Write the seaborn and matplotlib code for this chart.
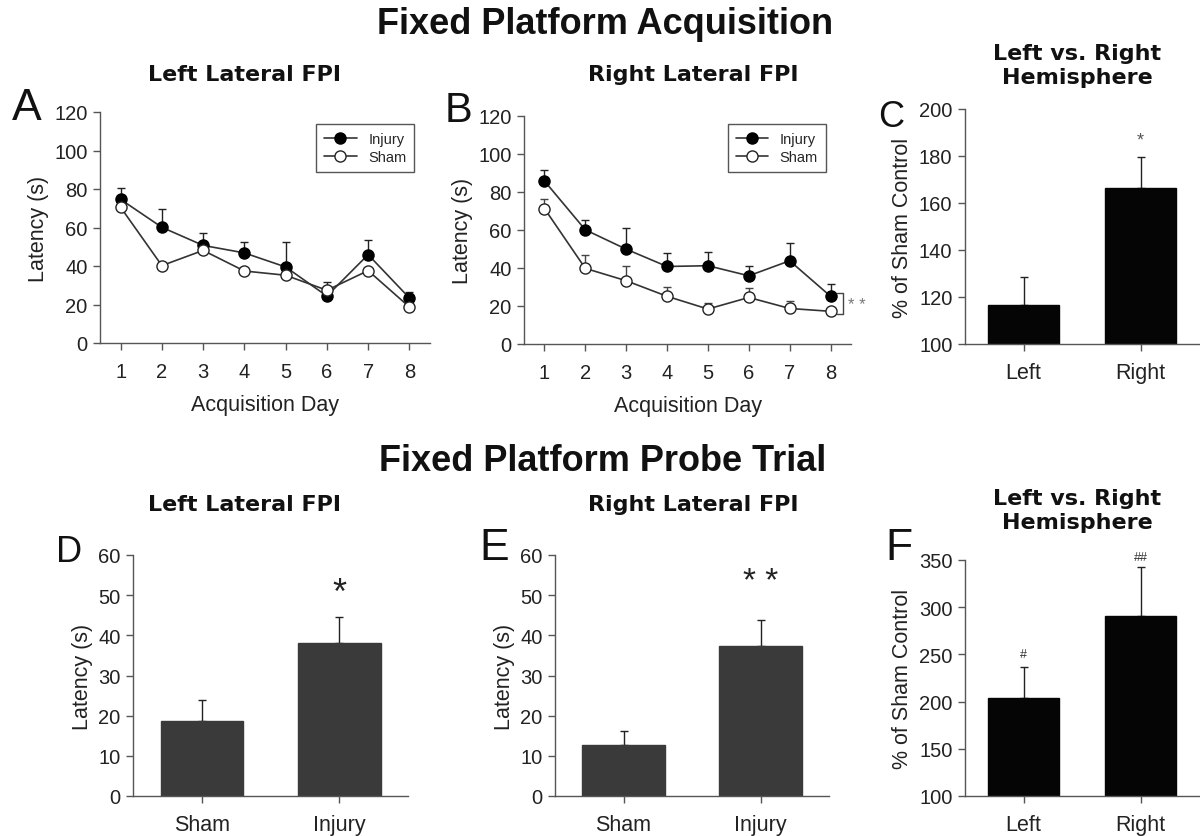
import numpy as np
import pandas as pd
import matplotlib
matplotlib.use("Agg")
import matplotlib.pyplot as plt
import seaborn as sns

# ---------------- data ----------------
days = [1, 2, 3, 4, 5, 6, 7, 8]

left_injury = [74.6, 60.1, 50.7, 46.8, 39.5, 24.4, 45.9, 23.4]
left_injury_err = [5.9, 9.3, 6.4, 5.7, 13.0, 7.1, 7.6, 3.1]
left_sham = [70.5, 40.2, 48.1, 37.4, 35.2, 27.4, 37.6, 18.7]

right_injury = [85.8, 60.1, 49.9, 40.8, 41.2, 35.9, 43.8, 25.1]
right_injury_err = [5.6, 5.1, 11.4, 6.9, 7.0, 5.3, 9.6, 6.3]
right_sham = [71.3, 39.8, 33.3, 25.1, 18.4, 24.5, 18.7, 17.2]
right_sham_err = [5.0, 7.0, 7.5, 4.7, 3.1, 4.8, 4.1, 1.5]

hemi_cats = ["Left", "Right"]
acq_pct = [116.5, 166.5]
acq_pct_err = [12.0, 13.0]

probe_cats = ["Sham", "Injury"]
probe_left = [18.7, 38.2]
probe_left_err = [5.3, 6.3]
probe_right = [12.8, 37.4]
probe_right_err = [3.3, 6.5]
probe_pct = [204.0, 291.0]
probe_pct_err = [33.0, 52.0]

# ---------------- style ----------------
sns.set_theme(style="ticks")
plt.rcParams["font.family"] = ["Liberation Sans", "DejaVu Sans"]
plt.rcParams["axes.edgecolor"] = "#555555"
plt.rcParams["xtick.color"] = "#555555"
plt.rcParams["ytick.color"] = "#555555"
plt.rcParams["xtick.labelcolor"] = "#222222"
plt.rcParams["ytick.labelcolor"] = "#222222"

W, H = 1200, 837
fig = plt.figure(figsize=(12, 8.37), dpi=100)
fig.patch.set_facecolor("white")


def rect(l, t, r, b):
    return [l / W, 1 - b / H, (r - l) / W, (b - t) / H]


def style_axes(ax):
    for s in ["top", "right"]:
        ax.spines[s].set_visible(False)
    ax.spines["left"].set_linewidth(1.0)
    ax.spines["bottom"].set_linewidth(1.0)
    ax.tick_params(axis="both", direction="out", length=5, width=1.0, labelsize=14.5, pad=4)
    ax.set_facecolor("white")


def line_panel(ax, inj, inj_err, sham, sham_err, ylabel):
    df_i = pd.DataFrame({"day": days, "lat": inj})
    df_s = pd.DataFrame({"day": days, "lat": sham})
    ax.errorbar(days, inj, yerr=[np.zeros(len(inj)), inj_err], fmt="none",
                ecolor="#222222", elinewidth=1.0, capsize=3, capthick=1.0, zorder=1.5)
    if sham_err is not None:
        ax.errorbar(days, sham, yerr=[np.zeros(len(sham)), sham_err], fmt="none",
                    ecolor="#444444", elinewidth=1.0, capsize=3, capthick=1.0, zorder=1.5)
    sns.lineplot(data=df_i, x="day", y="lat", ax=ax, color="#333333", lw=1.2,
                 marker="o", markersize=8, mfc="black", mec="black", mew=1.0,
                 label="Injury", zorder=3)
    sns.lineplot(data=df_s, x="day", y="lat", ax=ax, color="#333333", lw=1.2,
                 marker="o", markersize=8, mfc="white", mec="#222222", mew=1.0,
                 label="Sham", zorder=4)
    ax.set_xlim(0.5, 8.5)
    ax.set_ylim(0, 120)
    ax.set_xticks(days)
    ax.set_yticks([0, 20, 40, 60, 80, 100, 120])
    ax.set_xlabel("Acquisition Day", fontsize=15.5, color="#222222", labelpad=9)
    ax.set_ylabel(ylabel, fontsize=15.5, color="#222222")
    style_axes(ax)
    ax.tick_params(axis="x", pad=9)


def bar_panel(ax, cats, vals, errs, color, ylim, yticks, ylabel):
    df = pd.DataFrame({"cat": cats, "val": vals})
    sns.barplot(data=df, x="cat", y="val", ax=ax, color=color, width=0.6,
                errorbar=None, saturation=1, edgecolor=color, zorder=2)
    ax.errorbar(range(len(cats)), vals, yerr=[np.zeros(len(vals)), errs], fmt="none",
                ecolor="#222222", elinewidth=1.0, capsize=3, capthick=1.0, zorder=1.5)
    ax.set_xlim(-0.5, 1.5)
    ax.set_ylim(*ylim)
    ax.set_yticks(yticks)
    ax.set_xlabel("")
    ax.set_ylabel(ylabel, fontsize=15.5, color="#222222")
    style_axes(ax)
    ax.tick_params(axis="x", labelsize=15.5, pad=8)


leg_kw = dict(loc="upper right", frameon=True, fancybox=False, edgecolor="#555555",
              fontsize=10.5, handlelength=2.2, borderpad=0.55, labelspacing=0.25,
              framealpha=1)

# ---------------- panels ----------------
axA = fig.add_axes(rect(100, 113, 430, 344))
line_panel(axA, left_injury, left_injury_err, left_sham, None, "Latency (s)")
axA.legend(bbox_to_anchor=(0.975, 0.978), **leg_kw)

axB = fig.add_axes(rect(524, 117, 851, 345))
line_panel(axB, right_injury, right_injury_err, right_sham, right_sham_err, "Latency (s)")
axB.legend(bbox_to_anchor=(0.945, 0.997), **leg_kw)
# significance bracket at day 8
bx = 8.3
axB.plot([8.15, bx, bx, 8.15], [right_injury[-1] + 1.5, right_injury[-1] + 1.5,
                                right_sham[-1] - 1.5, right_sham[-1] - 1.5],
         color="#444444", lw=1.0, clip_on=False)
axB.text(8.42, (right_injury[-1] + right_sham[-1]) / 2 - 0.5, "* *", fontsize=12,
         color="#777777", va="center", ha="left", clip_on=False)

axC = fig.add_axes(rect(965, 110, 1199, 345))
bar_panel(axC, hemi_cats, acq_pct, acq_pct_err, "#050505", (100, 200),
          [100, 120, 140, 160, 180, 200], "% of Sham Control")
axC.text(1, 187, "*", ha="center", va="center", fontsize=13, color="#555555")

axD = fig.add_axes(rect(133, 556, 408, 797))
bar_panel(axD, probe_cats, probe_left, probe_left_err, "#3a3a3a", (0, 60),
          [0, 10, 20, 30, 40, 50, 60], "Latency (s)")
axD.text(1, 50.5, "*", ha="center", va="center", fontsize=26, color="#222222")

axE = fig.add_axes(rect(555, 556, 829, 797))
bar_panel(axE, probe_cats, probe_right, probe_right_err, "#3a3a3a", (0, 60),
          [0, 10, 20, 30, 40, 50, 60], "Latency (s)")
axE.text(1, 53.5, "* *", ha="center", va="center", fontsize=24, color="#222222")

axF = fig.add_axes(rect(965, 561, 1199, 797))
bar_panel(axF, hemi_cats, probe_pct, probe_pct_err, "#050505", (100, 350),
          [100, 150, 200, 250, 300, 350], "% of Sham Control")
axF.text(0, 250, "#", ha="center", va="center", fontsize=9, color="#333333")
axF.text(1, 353, "##", ha="center", va="center", fontsize=9, color="#333333")

# ---------------- titles & letters ----------------
def ftext(x, y, s, **kw):
    fig.text(x / W, 1 - y / H, s, **kw)

ftext(605, 24, "Fixed Platform Acquisition", ha="center", va="center", fontsize=26,
      fontweight="bold", color="#111111")
ftext(603, 462, "Fixed Platform Probe Trial", ha="center", va="center", fontsize=26,
      fontweight="bold", color="#111111")

sub_kw = dict(ha="center", va="center", fontsize=16, fontweight="heavy",
              family=["DejaVu Sans"], color="#111111")
ftext(244, 75, "Left Lateral FPI", **sub_kw)
ftext(693, 75, "Right Lateral FPI", **sub_kw)
ftext(244, 505, "Left Lateral FPI", **sub_kw)
ftext(693, 505, "Right Lateral FPI", **sub_kw)
ftext(1077, 66, "Left vs. Right\nHemisphere", linespacing=1.2, **sub_kw)
ftext(1077, 511, "Left vs. Right\nHemisphere", linespacing=1.2, **sub_kw)

let_kw = dict(ha="left", va="baseline", color="#111111")
ftext(12, 120, "A", fontsize=32, **let_kw)
ftext(445, 122, "B", fontsize=30, **let_kw)
ftext(878, 127, "C", fontsize=26, **let_kw)
ftext(56, 562, "D", fontsize=26, **let_kw)
ftext(479, 560, "E", fontsize=32, **let_kw)
ftext(885, 560, "F", fontsize=32, **let_kw)

fig.savefig("out.png", dpi=100, facecolor="white")
